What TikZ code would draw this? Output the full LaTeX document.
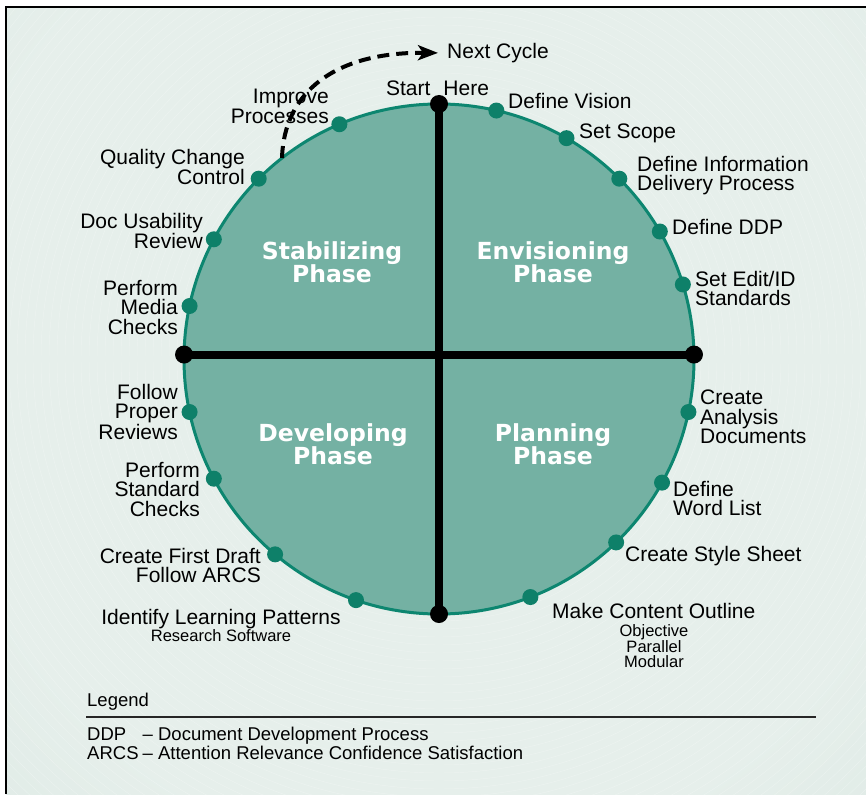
\documentclass[tikz,border=0pt]{standalone}
\usepackage{fontspec}
\setmainfont{Liberation Sans}
\newfontfamily\heavyfont{DejaVu Sans}
\usetikzlibrary{arrows.meta}

\definecolor{discfill}{HTML}{74B1A3}
\definecolor{discline}{HTML}{0D8670}
\definecolor{dotteal}{HTML}{0E8069}
\definecolor{bgin}{HTML}{E6EFEB}
\definecolor{bgout}{HTML}{C9DDD6}
\pgfdeclareradialshading{bgshade}{\pgfpoint{0bp}{0bp}}{color(0bp)=(bgin); color(19bp)=(bgin); color(48bp)=(bgout); color(50bp)=(bgout)}

\begin{document}
\begin{tikzpicture}[x=1pt,y=-1pt,
  lbl/.style={inner sep=0pt, font=\fontsize{21}{19.5}\selectfont},
  lblR/.style={lbl, anchor=north west, align=left},
  lblL/.style={lbl, anchor=north east, align=right},
  small/.style={inner sep=0pt, font=\fontsize{16.5}{15}\selectfont, align=center, anchor=north},
  legendfont/.style={inner sep=0pt, anchor=north west, align=left, font=\fontsize{18.5}{18.6}\selectfont},
  phase/.style={inner sep=0pt, text=white, align=center, anchor=north,
    font=\heavyfont\bfseries\fontsize{23.5}{23}\selectfont},
  stepdot/.style={circle, fill=dotteal, inner sep=0pt, minimum size=16pt},
  enddot/.style={circle, fill=black, inner sep=0pt, minimum size=18pt},
  axisline/.style={line width=8pt},
  cyclearrow/.style={line width=4pt, dash pattern=on 12pt off 7pt,
    -{Stealth[length=20pt,width=15pt,inset=5pt]}, shorten >=9pt}
]
\useasboundingbox (0,0) rectangle (866,794);

% page background with soft radial tint and fine rings
\fill[white] (0,0) rectangle (866,794);
\begin{scope}
  \clip (6,7) rectangle (866,794);
  \shade[shading=bgshade] (439,359) circle[radius=650pt];
  \foreach \r in {262,270,...,670}
    \draw[white, opacity=0.28, line width=0.45pt] (439,359) circle[radius=\r pt];
\end{scope}
\draw[line width=2.5pt] (6,794) -- (6,7) -- (866,7);

% the phase disc
\node[circle, draw=discline, line width=3pt, fill=discfill, minimum size=510pt,
      inner sep=0pt, outer sep=0pt] (disc) at (439,359) {};

% cross dividing the four phases
\node[enddot] (top) at (disc.north) {};
\node[enddot] (bottom) at (disc.south) {};
\node[enddot] (left) at (disc.179) {};
\node[enddot] (right) at (disc.1) {};
\draw[axisline] (top.center) -- (bottom.center);
\draw[axisline] (left.center) -- (right.center);

% step markers on the rim
\node[stepdot] (d-vision)   at (disc.77) {};
\node[stepdot] (d-scope)    at (disc.60) {};
\node[stepdot] (d-info)     at (disc.45) {};
\node[stepdot] (d-ddp)      at (disc.30.6) {};
\node[stepdot] (d-edit)     at (disc.17) {};
\node[stepdot] (d-analysis) at (disc.-12.7) {};
\node[stepdot] (d-word)     at (disc.-29.4) {};
\node[stepdot] (d-style)    at (disc.-46.9) {};
\node[stepdot] (d-outline)  at (disc.-69.1) {};
\node[stepdot] (d-identify) at (disc.-109.6) {};
\node[stepdot] (d-draft)    at (disc.-130.9) {};
\node[stepdot] (d-standard) at (disc.-152.4) {};
\node[stepdot] (d-reviews)  at (disc.-168.5) {};
\node[stepdot] (d-media)    at (disc.168.6) {};
\node[stepdot] (d-usab)     at (disc.152.4) {};
\node[stepdot] (d-quality)  at (disc.135.8) {};
\node[stepdot] (d-improve)  at (disc.113.2) {};

% phase names
\node[phase] (stab) at (332,241) {Stabilizing\\Phase};
\node[phase] (envi) at (553,241) {Envisioning\\Phase};
\node[phase] (deve) at (333,423) {Developing\\Phase};
\node[phase] (plan) at (553,423) {Planning\\Phase};

% step labels, right half
\node[lbl, anchor=north] (start) at (437.5,81) {Start\hspace{13pt}Here};
\node[lblR] (t-vision)   at (508,93)  {Define Vision};
\node[lblR] (t-scope)    at (579,124) {Set Scope};
\node[lblR] (t-info)     at (637,156) {Define Information\\Delivery Process};
\node[lblR] (t-ddp)      at (672,219) {Define DDP};
\node[lblR] (t-edit)     at (695,271) {Set Edit/ID\\Standards};
\node[lblR] (t-analysis) at (700,390) {Create\\Analysis\\Documents};
\node[lblR] (t-word)     at (673,481) {Define\\Word List};
\node[lblR] (t-style)    at (625,546) {Create Style Sheet};
\node[lblR] (t-outline)  at (552,603) {Make Content Outline};
\node[small] (t-outsub)  at (654,624) {Objective\\Parallel\\Modular};

% step labels, left half
\node[lbl, anchor=north, align=center] (t-identify) at (221,609) {Identify Learning Patterns};
\node[small] (t-idsub) at (221,629) {Research Software};
\node[lblL] (t-draft)    at (261,548) {Create First Draft\\Follow ARCS};
\node[lblL] (t-standard) at (200,462) {Perform\\Standard\\Checks};
\node[lblL] (t-reviews)  at (178,384) {Follow\\Proper\\Reviews};
\node[lblL] (t-media)    at (178,280) {Perform\\Media\\Checks};
\node[lblL] (t-usab)     at (203,213) {Doc Usability\\Review};
\node[lblL] (t-quality)  at (245,149) {Quality Change\\Control};
\node[lblL] (t-improve)  at (329,89)  {Improve\\Processes};

% loop back to the next cycle
\node[lbl, anchor=north west] (next) at (447,43) {Next Cycle};
\coordinate (cycstart) at (282,158);
\draw[cyclearrow] (cycstart) .. controls (284,92) and (335,52) .. (next.west);

% legend
\node[legendfont] (legend) at (87,693) {Legend};
\coordinate (ruleL) at (86,717);
\coordinate (ruleR) at (816,717);
\draw[line width=2.5pt, black!85] (ruleL) -- (ruleR);
\node[legendfont] (legendtext) at (87,727)
  {\makebox[55.5pt][l]{DDP}-- Document Development Process\\
   \makebox[55.5pt][l]{ARCS}-- Attention Relevance Confidence Satisfaction};
\end{tikzpicture}
\end{document}
